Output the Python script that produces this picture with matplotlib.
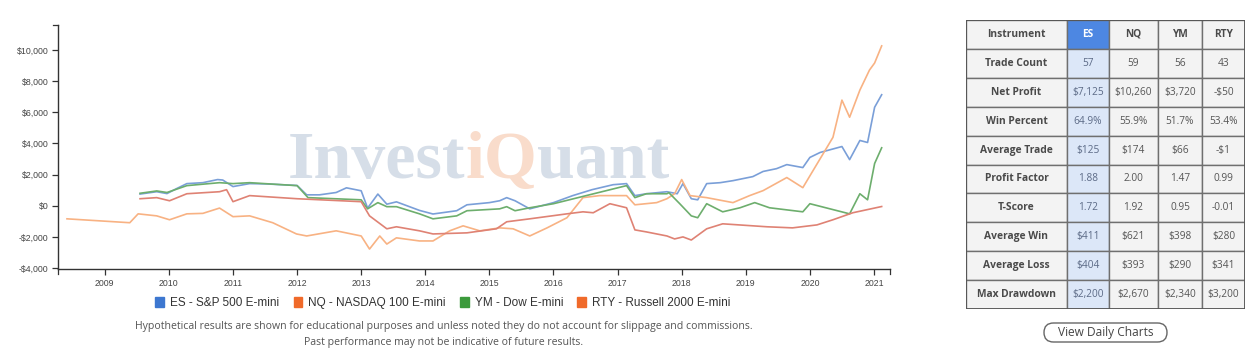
from matplotlib import pyplot as plt
from matplotlib.patches import Patch, Rectangle, FancyBboxPatch
from matplotlib.ticker import FuncFormatter
import numpy as np

# equity curves (decimal year, cumulative profit in $)
es_x = [2009.55, 2009.81, 2009.97, 2010.12, 2010.28, 2010.53, 2010.76, 2010.84, 2011.0, 2011.26,
        2011.52, 2012.0, 2012.15, 2012.35, 2012.61, 2012.77, 2013.0, 2013.1, 2013.26, 2013.4,
        2013.55, 2013.91, 2014.12, 2014.49, 2014.65, 2015.0, 2015.16, 2015.27, 2015.4, 2015.63,
        2016.0, 2016.3, 2016.6, 2016.93, 2017.14, 2017.27, 2017.45, 2017.77, 2017.93, 2018.02,
        2018.15, 2018.25, 2018.39, 2018.6, 2018.8, 2019.11, 2019.27, 2019.48, 2019.64, 2019.89,
        2020.0, 2020.16, 2020.5, 2020.62, 2020.78, 2020.9, 2021.01, 2021.12]
es_y = [750, 900, 780, 1100, 1420, 1480, 1680, 1650, 1230, 1420,
        1400, 1300, 700, 700, 850, 1150, 960, -150, 750, 100,
        250, -300, -530, -320, 60, 200, 320, 520, 320, -200,
        200, 650, 1030, 1350, 1420, 650, 770, 900, 770, 1420,
        450, 380, 1420, 1480, 1610, 1870, 2200, 2380, 2640, 2450,
        3100, 3420, 3800, 2960, 4190, 4060, 6320, 7125]

nq_x = [2008.41, 2009.39, 2009.52, 2009.81, 2010.01, 2010.28, 2010.53, 2010.79, 2011.0, 2011.26,
        2011.62, 2011.99, 2012.15, 2012.61, 2013.0, 2013.13, 2013.29, 2013.4, 2013.55, 2013.91,
        2014.12, 2014.38, 2014.59, 2014.85, 2015.16, 2015.37, 2015.63, 2015.9, 2016.21, 2016.46,
        2016.72, 2017.14, 2017.27, 2017.61, 2017.77, 2017.89, 2018.0, 2018.13, 2018.39, 2018.8,
        2019.06, 2019.27, 2019.64, 2019.89, 2020.05, 2020.36, 2020.5, 2020.62, 2020.78, 2020.93,
        2021.01, 2021.12]
nq_y = [-840, -1090, -520, -650, -900, -520, -490, -150, -700, -650,
        -1090, -1810, -1940, -1610, -1940, -2780, -1940, -2460, -2060, -2260,
        -2260, -1610, -1290, -1610, -1420, -1480, -1940, -1420, -770, 520,
        650, 650, 60, 200, 450, 770, 1680, 650, 520, 200,
        650, 970, 1810, 1160, 2260, 4390, 6780, 5680, 7420, 8710,
        9160, 10260]

ym_x = [2009.55, 2009.81, 2009.97, 2010.28, 2010.79, 2011.0, 2011.26, 2012.0, 2012.17, 2013.0,
        2013.1, 2013.26, 2013.4, 2013.55, 2013.91, 2014.12, 2014.49, 2014.65, 2015.16, 2015.27,
        2015.4, 2015.63, 2016.0, 2016.51, 2017.08, 2017.14, 2017.27, 2017.45, 2017.77, 2017.8,
        2017.97, 2018.15, 2018.25, 2018.39, 2018.64, 2018.91, 2019.14, 2019.37, 2019.89, 2020.0,
        2020.62, 2020.78, 2020.9, 2021.01, 2021.12]
ym_y = [800, 950, 850, 1290, 1480, 1420, 1480, 1290, 520, 380,
        -200, 200, -60, -60, -520, -840, -650, -320, -200, -60,
        -320, -130, 130, 650, 1230, 1290, 520, 770, 770, 840,
        130, -650, -770, 130, -390, -130, 200, -130, -390, 130,
        -520, 770, 380, 2710, 3720]

rty_x = [2009.55, 2009.81, 2010.01, 2010.28, 2010.79, 2010.9, 2011.0, 2011.26, 2012.0, 2013.0,
         2013.13, 2013.4, 2013.55, 2013.91, 2014.12, 2014.65, 2015.11, 2015.27, 2015.63, 2016.21,
         2016.46, 2016.62, 2016.88, 2017.14, 2017.27, 2017.45, 2017.77, 2017.89, 2018.02, 2018.15,
         2018.39, 2018.64, 2019.33, 2019.73, 2020.11, 2020.36, 2020.67, 2021.12]
rty_y = [450, 520, 320, 770, 900, 1030, 260, 650, 450, 260,
         -650, -1480, -1350, -1610, -1810, -1740, -1480, -1030, -840, -520,
         -390, -450, 130, -130, -1550, -1680, -1940, -2130, -2000, -2200,
         -1480, -1160, -1350, -1420, -1230, -900, -450, -50]

years = list(range(2009, 2022))
y_ticks = [-4000, -2000, 0, 2000, 4000, 6000, 8000, 10000]

legend_labels = ["ES - S&P 500 E-mini", "NQ - NASDAQ 100 E-mini", "YM - Dow E-mini", "RTY - Russell 2000 E-mini"]

# stats table
instruments = ["ES", "NQ", "YM", "RTY"]
row_names = ["Trade Count", "Net Profit", "Win Percent", "Average Trade", "Profit Factor",
             "T-Score", "Average Win", "Average Loss", "Max Drawdown"]
trade_count = ["57", "59", "56", "43"]
net_profit = ["$7,125", "$10,260", "$3,720", "-$50"]
win_percent = ["64.9%", "55.9%", "51.7%", "53.4%"]
avg_trade = ["$125", "$174", "$66", "-$1"]
profit_factor = ["1.88", "2.00", "1.47", "0.99"]
t_score = ["1.72", "1.92", "0.95", "-0.01"]
avg_win = ["$411", "$621", "$398", "$280"]
avg_loss = ["$404", "$393", "$290", "$341"]
max_dd = ["$2,200", "$2,670", "$2,340", "$3,200"]
table_rows = [trade_count, net_profit, win_percent, avg_trade, profit_factor,
              t_score, avg_win, avg_loss, max_dd]

W, H = 1258, 352
fig = plt.figure(figsize=(W / 100, H / 100), dpi=100)
fig.patch.set_facecolor("white")


def fx(px):
    return px / W


def fy(py):
    return 1 - py / H


ax = fig.add_axes([fx(58), fy(269), fx(890 - 58), (269 - 25) / H])
ax.set_xlim(2008.27, 2021.25)
ax.set_ylim(-4060, 11600)

line_colors = ["#7a9fd8", "#f8b283", "#6dae6d", "#df8274"]
legend_colors = ["#3d77d0", "#f06a2a", "#3c9a3c", "#f06a2a"]
series = [(es_x, es_y), (nq_x, nq_y), (ym_x, ym_y), (rty_x, rty_y)]
for (xs, ys), c in zip(series, line_colors):
    ax.plot(xs, ys, color=c, lw=1.2, zorder=3)

for s in ["top", "right"]:
    ax.spines[s].set_visible(False)
for s in ["left", "bottom"]:
    ax.spines[s].set_color("#333333")
    ax.spines[s].set_linewidth(1.0)
ax.set_xticks(years)
ax.set_xticklabels([str(y) for y in years])
ax.set_yticks(y_ticks)
ax.yaxis.set_major_formatter(FuncFormatter(lambda v, p: ("-$" if v < 0 else "$") + f"{abs(v):,.0f}"))
ax.tick_params(axis="both", direction="out", length=4, width=0.9, color="#333333",
               labelsize=6.3, labelcolor="#444444", pad=3)
for lab in ax.get_xticklabels() + ax.get_yticklabels():
    lab.set_family("Liberation Sans")
# d3 style outer ticks at axis ends
ax.plot([0, -0.006], [1, 1], transform=ax.transAxes, color="#333333", lw=0.9, clip_on=False)
ax.plot([1, 1], [0, -0.02], transform=ax.transAxes, color="#333333", lw=0.9, clip_on=False)
ax.plot([0, 0], [0, -0.02], transform=ax.transAxes, color="#333333", lw=0.9, clip_on=False)

# watermark
fig.canvas.draw()
r = fig.canvas.get_renderer()
wm_kw = dict(family="Liberation Serif", weight="bold", fontsize=49, va="baseline", zorder=0)
x0 = fx(288)
parts = [("Invest", "#d6dee8"), ("iQ", "#f9dccb"), ("uant", "#d6dee8")]
for txt, col in parts:
    t = fig.text(x0, fy(178), txt, color=col, **wm_kw)
    bb = t.get_window_extent(r)
    x0 = bb.x1 / W
ax.set_zorder(2)
ax.patch.set_alpha(0)

handles = [Patch(facecolor=c, edgecolor=c) for c in legend_colors]
fig.legend(handles, legend_labels, loc="center", bbox_to_anchor=(fx(443), fy(303)), ncol=4,
           frameon=False, handlelength=0.75, handleheight=0.9, handletextpad=0.5,
           columnspacing=1.2, prop={"family": "Liberation Sans", "size": 8.5}, labelcolor="#333333")

disc_kw = dict(ha="center", va="center", family="Open Sans", fontsize=7.6, color="#555555")
fig.text(fx(444), fy(327), "Hypothetical results are shown for educational purposes and unless noted they do not account for slippage and commissions.", **disc_kw)
fig.text(fx(444), fy(343), "Past performance may not be indicative of future results.", **disc_kw)

# table
tx0, tx1, ty0, ty1 = 966, 1245, 20, 309
tax = fig.add_axes([fx(tx0), fy(ty1), fx(tx1 - tx0), (ty1 - ty0) / H])
tax.set_xlim(tx0, tx1)
tax.set_ylim(ty1, ty0)
tax.axis("off")
col_edges = [966, 1067, 1109, 1158, 1202, 1245]
n_rows = len(row_names) + 1
rh = (ty1 - ty0) / n_rows
header = ["Instrument"] + instruments
body = [[name] + vals for name, vals in zip(row_names, table_rows)]
all_rows = [header] + body
for i, row in enumerate(all_rows):
    y0 = ty0 + i * rh
    for j, val in enumerate(row):
        x_a, x_b = col_edges[j], col_edges[j + 1]
        fc = "#f3f3f3"
        tc = "#555555"
        weight = "normal"
        if j == 1:
            fc = "#dce7f8"
            tc = "#5c6a86"
        if i == 0 and j == 1:
            fc = "#4d87e2"
            tc = "white"
        if i == 0 or j == 0:
            weight = "bold"
            if not (i == 0 and j == 1):
                tc = "#4a4a4a"
        tax.add_patch(Rectangle((x_a, y0), x_b - x_a, rh, facecolor=fc, edgecolor="#6f6f6f", lw=1.0))
        tax.text((x_a + x_b) / 2, y0 + rh / 2, val, ha="center", va="center", family="Open Sans",
                 fontsize=7.3 if j > 0 else 7.4, weight=weight, color=tc)
tax.add_patch(Rectangle((tx0, ty0), tx1 - tx0, ty1 - ty0, fill=False, edgecolor="#555555", lw=1.3))

# button
bax = fig.add_axes([0, 0, 1, 1], facecolor="none")
bax.set_xlim(0, W)
bax.set_ylim(H, 0)
bax.axis("off")
bax.add_patch(FancyBboxPatch((1044, 323), 123, 19, boxstyle="round,pad=0,rounding_size=9.5",
                             facecolor="white", edgecolor="#666666", lw=1.0))
bax.text(1105.5, 332.5, "View Daily Charts", ha="center", va="center", family="Open Sans",
         fontsize=8.6, color="#444444")

fig.savefig("out.png", dpi=100)
